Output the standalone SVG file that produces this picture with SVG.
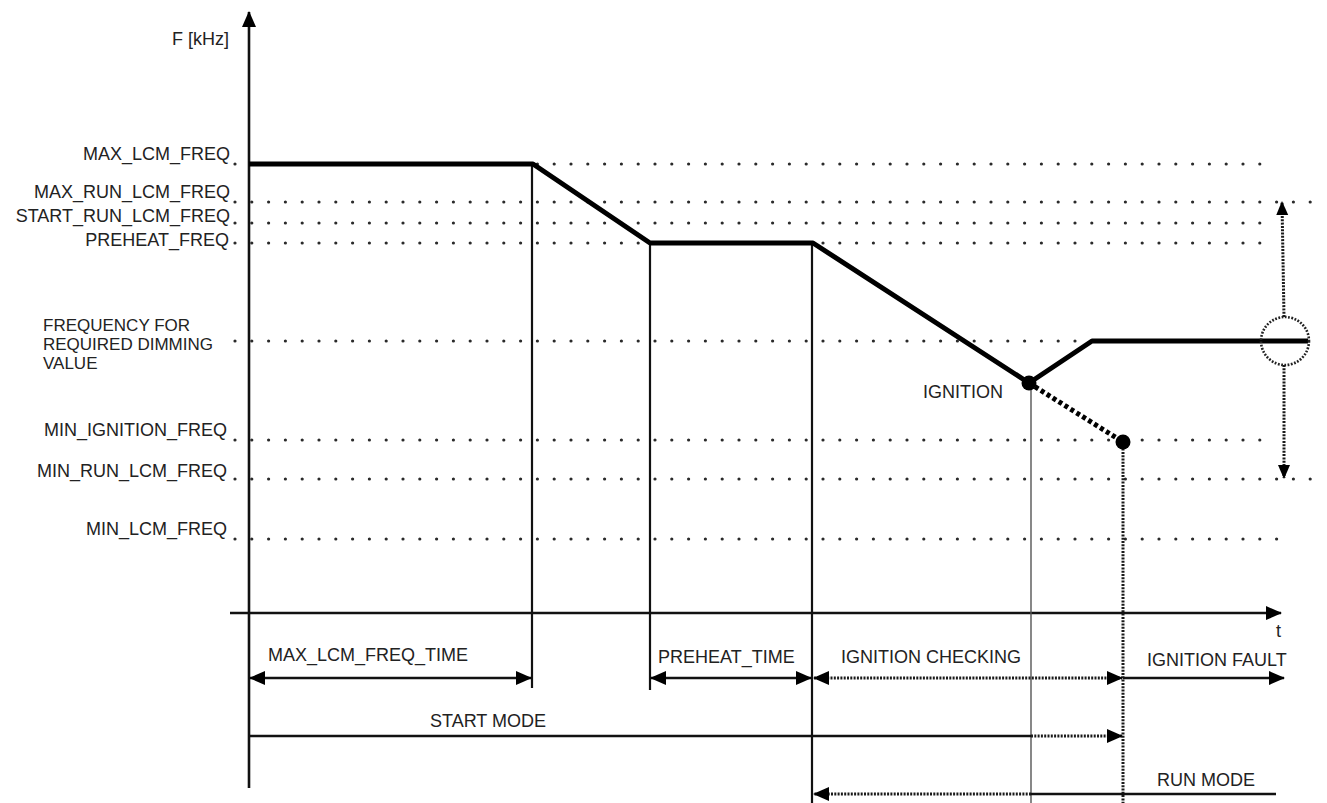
<svg xmlns="http://www.w3.org/2000/svg" width="1327" height="803" viewBox="0 0 1327 803">
<style>
text{font-family:"Liberation Sans",Arial,sans-serif;font-size:18px;fill:#222}
.end{text-anchor:end}
.small{font-size:17px}
.grid{stroke:#2a2a2a;stroke-width:3.2;stroke-linecap:round;stroke-dasharray:0 16.8;fill:none}
.axis{stroke:#111;stroke-width:2.6;fill:none}
.curve{stroke:#000;stroke-width:5;fill:none;stroke-linejoin:round}
.vline{stroke:#111;stroke-width:2.2;fill:none}
.thin{stroke:#555;stroke-width:1.4;fill:none}
.dense{stroke:#1a1a1a;stroke-width:3;stroke-dasharray:2 1.3;fill:none}
.solid{stroke:#111;stroke-width:2.4;fill:none}
</style>
<defs>
<marker id="ah" markerUnits="userSpaceOnUse" markerWidth="16" markerHeight="14" refX="15" refY="7" orient="auto-start-reverse" viewBox="0 0 16 14">
<path d="M0,0 L16,7 L0,14 Z" fill="#000"/>
</marker>
<marker id="ahs" markerUnits="userSpaceOnUse" markerWidth="14" markerHeight="14" refX="13" refY="7" orient="auto-start-reverse" viewBox="0 0 14 14">
<path d="M0,1 L14,7 L0,13 Z" fill="#000"/>
</marker>
</defs>
<rect width="1327" height="803" fill="#fff"/>

<g id="gridlines">
<line class="grid" x1="235" y1="164" x2="1270" y2="164"/>
<line class="grid" x1="235" y1="202" x2="1322" y2="202"/>
<line class="grid" x1="235" y1="223" x2="1270" y2="223"/>
<line class="grid" x1="235" y1="243" x2="1270" y2="243"/>
<line class="grid" x1="235" y1="341" x2="1090" y2="341"/>
<line class="grid" x1="235" y1="440" x2="1272" y2="440"/>
<line class="grid" x1="235" y1="479" x2="1322" y2="479"/>
<line class="grid" x1="235" y1="539" x2="1280" y2="539"/>
</g>

<g id="axes">
<line class="axis" x1="249" y1="788" x2="249" y2="12" marker-end="url(#ah)"/>
<line class="axis" x1="230" y1="613" x2="1281" y2="613" marker-end="url(#ah)"/>
<text x="1276" y="637">t</text>
<text class="end" x="229" y="45">F [kHz]</text>
</g>

<g id="phase-lines">
<line class="vline" x1="532" y1="164" x2="532" y2="688"/>
<line class="vline" x1="650" y1="243" x2="650" y2="690"/>
<line class="vline" x1="812" y1="243" x2="812" y2="803"/>
<line class="thin" x1="1031" y1="383" x2="1031" y2="803"/>
<line class="dense" x1="1123" y1="442" x2="1123" y2="803"/>
</g>

<g id="frequency-curve">
<path class="curve" d="M249,164 L533,164 L650,243 L813,243 L1029,383 L1092,341 L1308,341"/>
<line x1="1029" y1="383" x2="1123" y2="442" stroke="#000" stroke-width="5" stroke-dasharray="4 3"/>
</g>

<g id="ignition-node">
<circle cx="1029" cy="383" r="7.5" fill="#000"/>
<text x="923" y="398">IGNITION</text>
</g>
<g id="fault-node">
<circle cx="1123" cy="442" r="7.5" fill="#000"/>
</g>
<g id="dimming-node">
<circle cx="1285" cy="341" r="24" fill="none" stroke="#222" stroke-width="2.6" stroke-dasharray="1.8 1.5"/>
</g>

<g id="level-labels">
<text class="end" x="230" y="160">MAX_LCM_FREQ</text>
<text class="end" x="230" y="198">MAX_RUN_LCM_FREQ</text>
<text class="end" x="230" y="222">START_RUN_LCM_FREQ</text>
<text class="end" x="229" y="246">PREHEAT_FREQ</text>
<text class="small" x="43" y="331">FREQUENCY FOR</text>
<text class="small" x="43" y="350">REQUIRED DIMMING</text>
<text class="small" x="43" y="369">VALUE</text>
<text class="end" x="227" y="436">MIN_IGNITION_FREQ</text>
<text class="end" x="227" y="477">MIN_RUN_LCM_FREQ</text>
<text class="end" x="227" y="535">MIN_LCM_FREQ</text>
</g>

<g id="time-labels">
<text x="268" y="661">MAX_LCM_FREQ_TIME</text>
<text x="658" y="663">PREHEAT_TIME</text>
<text x="841" y="663">IGNITION CHECKING</text>
<text x="1147" y="666">IGNITION FAULT</text>
<text x="430" y="727">START MODE</text>
<text x="1157" y="786">RUN MODE</text>
</g>

<g id="connectors">
<line class="dense" x1="1284" y1="317" x2="1282" y2="202" marker-end="url(#ahs)"/>
<line class="dense" x1="1284" y1="365" x2="1284" y2="478" marker-end="url(#ahs)"/>
<line class="solid" x1="250" y1="678" x2="531" y2="678" marker-start="url(#ah)" marker-end="url(#ah)"/>
<line class="solid" x1="651" y1="678" x2="811" y2="678" marker-start="url(#ah)" marker-end="url(#ah)"/>
<line class="dense" x1="814" y1="678" x2="1122" y2="678" marker-start="url(#ah)" marker-end="url(#ah)"/>
<line class="solid" x1="1123" y1="678" x2="1284" y2="678" marker-end="url(#ah)"/>
<line class="solid" x1="249" y1="736" x2="1031" y2="736"/>
<line class="dense" x1="1031" y1="736" x2="1122" y2="736" marker-end="url(#ah)"/>
<line class="solid" x1="1031" y1="794" x2="1276" y2="794"/>
<line class="dense" x1="1031" y1="794" x2="814" y2="794" marker-end="url(#ah)"/>
</g>
</svg>
